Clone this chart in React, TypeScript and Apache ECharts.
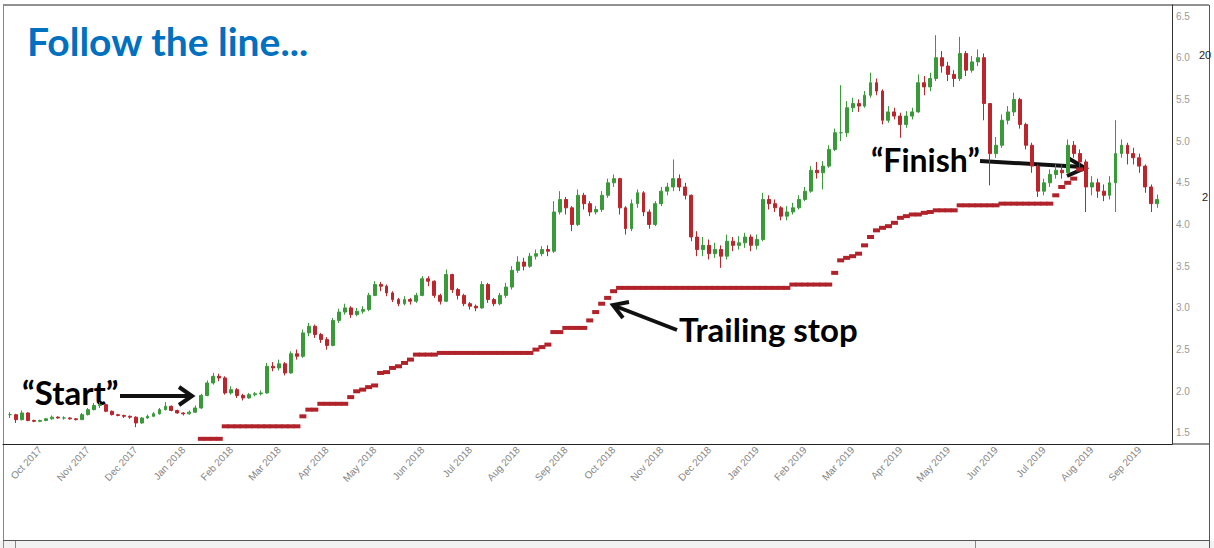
import React, { useEffect, useRef } from "react";
import * as echarts from "echarts";

const monthLabels = [
  "Oct 2017", "Nov 2017", "Dec 2017", "Jan 2018", "Feb 2018", "Mar 2018",
  "Apr 2018", "May 2018", "Jun 2018", "Jul 2018", "Aug 2018", "Sep 2018",
  "Oct 2018", "Nov 2018", "Dec 2018", "Jan 2019", "Feb 2019", "Mar 2019",
  "Apr 2019", "May 2019", "Jun 2019", "Jul 2019", "Aug 2019", "Sep 2019",
];
const yTickValues = [1.5, 2.0, 2.5, 3.0, 3.5, 4.0, 4.5, 5.0, 5.5, 6.0, 6.5];

// bars: months since 1 Oct 2017
const firstBarMonth = -0.625;
const barsPerMonth = 8;

const closes = [
  1.72, 1.66, 1.74, 1.65, 1.64, 1.65, 1.67, 1.69, 1.68, 1.68,
  1.67, 1.66, 1.72, 1.78, 1.83, 1.84, 1.76, 1.72, 1.71, 1.70,
  1.69, 1.62, 1.68, 1.70, 1.73, 1.78, 1.82, 1.77, 1.74, 1.73,
  1.75, 1.80, 1.95, 2.10, 2.18, 2.16, 1.98, 2.02, 1.95, 1.92,
  1.96, 1.97, 1.98, 2.30, 2.28, 2.33, 2.22, 2.45, 2.42, 2.70,
  2.78, 2.68, 2.62, 2.55, 2.85, 2.95, 3.00, 2.92, 2.96, 2.98,
  3.15, 3.28, 3.26, 3.18, 3.10, 3.05, 3.10, 3.08, 3.15, 3.35,
  3.32, 3.15, 3.08, 3.40, 3.22, 3.15, 3.05, 3.02, 3.00, 3.28,
  3.10, 3.05, 3.15, 3.25, 3.45, 3.55, 3.50, 3.62, 3.65, 3.70,
  3.68, 4.15, 4.30, 4.20, 4.00, 4.35, 4.25, 4.15, 4.18, 4.35,
  4.50, 4.55, 4.20, 3.95, 4.25, 4.38, 4.15, 4.00, 4.25, 4.40,
  4.45, 4.55, 4.45, 4.35, 3.85, 3.70, 3.75, 3.65, 3.70, 3.62,
  3.80, 3.75, 3.78, 3.85, 3.75, 3.82, 4.30, 4.25, 4.20, 4.10,
  4.15, 4.20, 4.30, 4.40, 4.65, 4.62, 4.70, 4.90, 5.10, 5.10,
  5.40, 5.45, 5.42, 5.55, 5.70, 5.60, 5.25, 5.35, 5.30, 5.20,
  5.30, 5.35, 5.70, 5.65, 5.75, 6.00, 5.90, 5.80, 5.75, 6.05,
  5.85, 5.95, 6.00, 5.45, 4.85, 4.95, 5.25, 5.35, 5.50, 5.20,
  4.95, 4.70, 4.40, 4.50, 4.60, 4.65, 4.62, 4.95, 4.85, 4.75,
  4.45, 4.50, 4.40, 4.35, 4.50, 4.85, 4.95, 4.85, 4.80, 4.70,
  4.45, 4.25, 4.30,
];

const highs = [
  1.75, 1.73, 1.77, 1.75, 1.66, 1.66, 1.68, 1.71, 1.70, 1.70,
  1.69, 1.68, 1.74, 1.80, 1.86, 1.87, 1.85, 1.77, 1.73, 1.72,
  1.71, 1.70, 1.69, 1.72, 1.75, 1.80, 1.87, 1.83, 1.78, 1.75,
  1.77, 1.83, 1.97, 2.13, 2.22, 2.21, 2.18, 2.06, 2.04, 1.97,
  1.98, 1.99, 2.01, 2.34, 2.35, 2.38, 2.35, 2.48, 2.50, 2.74,
  2.82, 2.80, 2.70, 2.65, 2.88, 2.99, 3.05, 3.02, 3.00, 3.02,
  3.18, 3.32, 3.31, 3.28, 3.20, 3.12, 3.14, 3.12, 3.18, 3.38,
  3.38, 3.33, 3.17, 3.46, 3.41, 3.24, 3.17, 3.07, 3.04, 3.32,
  3.30, 3.12, 3.18, 3.30, 3.50, 3.62, 3.60, 3.66, 3.70, 3.74,
  3.75, 4.28, 4.40, 4.33, 4.22, 4.42, 4.38, 4.28, 4.22, 4.40,
  4.55, 4.60, 4.56, 4.22, 4.30, 4.42, 4.40, 4.18, 4.28, 4.45,
  4.50, 4.78, 4.60, 4.50, 4.36, 3.92, 3.85, 3.82, 3.78, 3.75,
  3.88, 3.85, 3.86, 3.90, 3.88, 3.88, 4.38, 4.35, 4.30, 4.22,
  4.22, 4.26, 4.35, 4.45, 4.70, 4.75, 4.76, 4.95, 5.15, 5.67,
  5.48, 5.52, 5.50, 5.60, 5.82, 5.75, 5.62, 5.42, 5.40, 5.34,
  5.36, 5.40, 5.80, 5.78, 5.82, 6.27, 6.08, 5.95, 5.85, 6.25,
  6.08, 6.02, 6.10, 6.05, 5.05, 5.05, 5.32, 5.42, 5.58, 5.52,
  5.22, 4.98, 4.72, 4.55, 4.66, 4.72, 4.72, 5.02, 5.00, 4.90,
  4.78, 4.58, 4.55, 4.48, 4.58, 5.25, 5.02, 4.98, 4.92, 4.85,
  4.72, 4.48, 4.36,
];

const lows = [
  1.68, 1.62, 1.65, 1.64, 1.63, 1.63, 1.64, 1.66, 1.67, 1.66,
  1.66, 1.65, 1.66, 1.71, 1.77, 1.80, 1.75, 1.71, 1.70, 1.68,
  1.67, 1.57, 1.61, 1.67, 1.69, 1.72, 1.77, 1.76, 1.73, 1.71,
  1.72, 1.74, 1.79, 1.94, 2.08, 2.12, 1.96, 1.96, 1.92, 1.89,
  1.91, 1.94, 1.95, 1.97, 2.24, 2.25, 2.19, 2.21, 2.38, 2.40,
  2.66, 2.64, 2.58, 2.50, 2.54, 2.82, 2.92, 2.88, 2.90, 2.93,
  2.96, 3.14, 3.20, 3.14, 3.07, 3.02, 3.03, 3.04, 3.06, 3.14,
  3.26, 3.12, 3.04, 3.07, 3.18, 3.10, 3.02, 2.98, 2.96, 2.99,
  3.06, 3.02, 3.03, 3.12, 3.22, 3.42, 3.45, 3.48, 3.58, 3.62,
  3.62, 3.66, 4.12, 4.12, 3.92, 3.98, 4.18, 4.10, 4.12, 4.15,
  4.32, 4.45, 4.12, 3.88, 3.92, 4.20, 4.10, 3.95, 3.98, 4.22,
  4.35, 4.40, 4.40, 4.30, 3.80, 3.62, 3.62, 3.58, 3.60, 3.48,
  3.58, 3.68, 3.70, 3.72, 3.68, 3.70, 3.80, 4.18, 4.15, 4.05,
  4.05, 4.12, 4.18, 4.28, 4.38, 4.55, 4.42, 4.68, 4.88, 5.00,
  5.05, 5.35, 5.35, 5.40, 5.52, 5.55, 5.20, 5.22, 5.26, 5.04,
  5.16, 5.26, 5.34, 5.55, 5.60, 5.72, 5.82, 5.72, 5.65, 5.72,
  5.78, 5.82, 5.90, 5.25, 4.47, 4.80, 4.92, 5.20, 5.30, 5.15,
  4.90, 4.62, 4.33, 4.35, 4.45, 4.55, 4.55, 4.60, 4.80, 4.68,
  4.15, 4.35, 4.32, 4.28, 4.30, 4.15, 4.80, 4.72, 4.72, 4.62,
  4.38, 4.15, 4.20,
];

const stopLevels = [
  null, null, null, null, null, null, null, null, null, null,
  null, null, null, null, null, null, null, null, null, null,
  null, null, null, null, null, null, null, null, null, null,
  null, null, 1.43, 1.43, 1.43, 1.43, 1.58, 1.58, 1.58, 1.58,
  1.58, 1.58, 1.58, 1.58, 1.58, 1.58, 1.58, 1.58, 1.58, 1.70,
  1.78, 1.78, 1.85, 1.85, 1.85, 1.85, 1.85, 1.93, 2.00, 2.02,
  2.05, 2.07, 2.22, 2.23, 2.28, 2.30, 2.34, 2.38, 2.44, 2.44,
  2.44, 2.44, 2.46, 2.46, 2.46, 2.46, 2.46, 2.46, 2.46, 2.46,
  2.46, 2.46, 2.46, 2.46, 2.46, 2.46, 2.46, 2.46, 2.50, 2.53,
  2.56, 2.71, 2.71, 2.76, 2.76, 2.76, 2.76, 2.85, 2.95, 3.05,
  3.12, 3.20, 3.24, 3.24, 3.24, 3.24, 3.24, 3.24, 3.24, 3.24,
  3.24, 3.24, 3.24, 3.24, 3.24, 3.24, 3.24, 3.24, 3.24, 3.24,
  3.24, 3.24, 3.24, 3.24, 3.24, 3.24, 3.24, 3.24, 3.24, 3.24,
  3.24, 3.28, 3.28, 3.28, 3.28, 3.28, 3.28, 3.28, 3.42, 3.57,
  3.60, 3.62, 3.65, 3.75, 3.85, 3.93, 3.96, 3.98, 4.02, 4.08,
  4.10, 4.12, 4.12, 4.14, 4.15, 4.17, 4.17, 4.17, 4.17, 4.23,
  4.23, 4.23, 4.23, 4.23, 4.23, 4.23, 4.25, 4.25, 4.25, 4.25,
  4.25, 4.25, 4.25, 4.25, 4.25, 4.35, 4.45, 4.50, 4.55, 4.66,
  null, null, null, null, null, null, null, null, null, null,
  null, null, null,
];

const UP = "#3a9a3a";
const DOWN = "#bb262c";
const STOP = "#b0232a";

export default function App() {
  const ref = useRef<HTMLDivElement>(null);

  useEffect(() => {
    const chart = echarts.init(ref.current!, null, { renderer: "svg" });

    const candles = closes.map((c, i) => {
      const o = i === 0 ? c : closes[i - 1];
      const x = firstBarMonth + i / barsPerMonth;
      return [x, o, c, Math.min(lows[i], o, c), Math.max(highs[i], o, c)];
    });
    const stops: number[][] = [];
    stopLevels.forEach((v, i) => {
      if (v != null) stops.push([firstBarMonth + i / barsPerMonth, v]);
    });

    const font = "Lato, 'Open Sans', sans-serif";
    const arrowStyle = { stroke: "#111", lineWidth: 4, fill: "none", lineCap: "butt", lineJoin: "miter" };

    chart.setOption({
      animation: false,
      backgroundColor: "#ffffff",
      grid: { left: 3, right: 42, top: 5, bottom: 104 },
      xAxis: {
        type: "value",
        min: -0.774,
        max: 23.682,
        splitLine: { show: false },
        axisTick: { show: false },
        axisLine: { show: true, onZero: false, lineStyle: { color: "#222", width: 1 } },
        axisLabel: {
          customValues: monthLabels.map((_, i) => i),
          formatter: (v: number) => monthLabels[Math.round(v)] ?? "",
          rotate: 47,
          color: "#858585",
          fontSize: 10,
          fontFamily: "'Liberation Sans', Arial, sans-serif",
          margin: 4,
        },
      },
      yAxis: {
        type: "value",
        position: "right",
        min: 1.368,
        max: 6.632,
        splitLine: { show: false },
        axisTick: { show: false },
        axisLine: { show: true, onZero: false, lineStyle: { color: "#333", width: 1 } },
        axisLabel: {
          customValues: yTickValues,
          formatter: (v: number) => v.toFixed(1),
          color: "#9a9a9a",
          fontSize: 10,
          fontFamily: "'Liberation Sans', Arial, sans-serif",
          margin: 4,
        },
      },
      series: [
        {
          type: "candlestick",
          data: candles,
          encode: { x: 0, y: [1, 2, 3, 4] },
          barWidth: 3.4,
          itemStyle: {
            color: UP,
            color0: DOWN,
            borderColor: UP,
            borderColor0: DOWN,
            borderColorDoji: UP,
            borderWidth: 1,
          },
        },
        {
          type: "scatter",
          data: stops,
          symbol: "rect",
          symbolSize: [7, 4],
          itemStyle: { color: STOP, opacity: 1 },
          z: 3,
        },
      ],
      graphic: [
        { type: "rect", shape: { x: 0, y: 541, width: 1214, height: 7 }, style: { fill: "#f2f2f2" }, silent: true },
        { type: "line", shape: { x1: 3, y1: 5, x2: 1209, y2: 5 }, style: { stroke: "#222", lineWidth: 1 } },
        { type: "line", shape: { x1: 3.5, y1: 5, x2: 3.5, y2: 548 }, style: { stroke: "#888", lineWidth: 1 } },
        { type: "line", shape: { x1: 1209.5, y1: 5, x2: 1209.5, y2: 548 }, style: { stroke: "#555", lineWidth: 1 } },
        { type: "line", shape: { x1: 1172, y1: 444, x2: 1209, y2: 444 }, style: { stroke: "#222", lineWidth: 1 } },
        { type: "line", shape: { x1: 3, y1: 540.5, x2: 1209, y2: 540.5 }, style: { stroke: "#555", lineWidth: 1 } },
        { type: "line", shape: { x1: 15.5, y1: 541, x2: 15.5, y2: 548 }, style: { stroke: "#888", lineWidth: 1 } },
        { type: "line", shape: { x1: 975.5, y1: 541, x2: 975.5, y2: 548 }, style: { stroke: "#888", lineWidth: 1 } },
        {
          type: "text", x: 1199, y: 55,
          style: { text: "20", fill: "#222", fontSize: 11, fontFamily: "'Liberation Sans', Arial", align: "left", verticalAlign: "middle" },
        },
        {
          type: "text", x: 1202, y: 197,
          style: { text: "2", fill: "#222", fontSize: 11, fontFamily: "'Liberation Sans', Arial", align: "left", verticalAlign: "middle" },
        },
        {
          type: "text", x: 27, y: 41,
          style: { text: "Follow the line...", fill: "#0070C0", fontSize: 39, fontWeight: "bold", fontFamily: font, align: "left", verticalAlign: "middle" },
        },
        {
          type: "text", x: 22, y: 392,
          style: { text: "\u201CStart\u201D", fill: "#000", fontSize: 33, fontWeight: "bold", fontFamily: font, align: "left", verticalAlign: "middle" },
        },
        {
          type: "text", x: 679, y: 329,
          style: { text: "Trailing stop", fill: "#000", fontSize: 33, fontWeight: "bold", fontFamily: font, align: "left", verticalAlign: "middle" },
        },
        {
          type: "text", x: 871, y: 159,
          style: { text: "\u201CFinish\u201D", fill: "#000", fontSize: 32, fontWeight: "bold", fontFamily: font, align: "left", verticalAlign: "middle" },
        },
        { type: "line", shape: { x1: 120, y1: 396, x2: 190, y2: 396 }, style: arrowStyle },
        { type: "polyline", shape: { points: [[179, 387], [192, 396], [179, 405]] }, style: arrowStyle },
        { type: "line", shape: { x1: 677, y1: 330, x2: 615, y2: 306 }, style: arrowStyle },
        { type: "polyline", shape: { points: [[629, 302], [613, 305], [623, 318]] }, style: arrowStyle },
        { type: "line", shape: { x1: 980, y1: 161, x2: 1083, y2: 167 }, style: arrowStyle },
        { type: "polyline", shape: { points: [[1068, 158], [1085, 168], [1067, 176]] }, style: arrowStyle },
      ],
    });

    return () => chart.dispose();
  }, []);

  return (
    <div
      ref={ref}
      style={{ position: "fixed", left: 0, top: 0, width: 1214, height: 548, background: "#fff" }}
    />
  );
}
